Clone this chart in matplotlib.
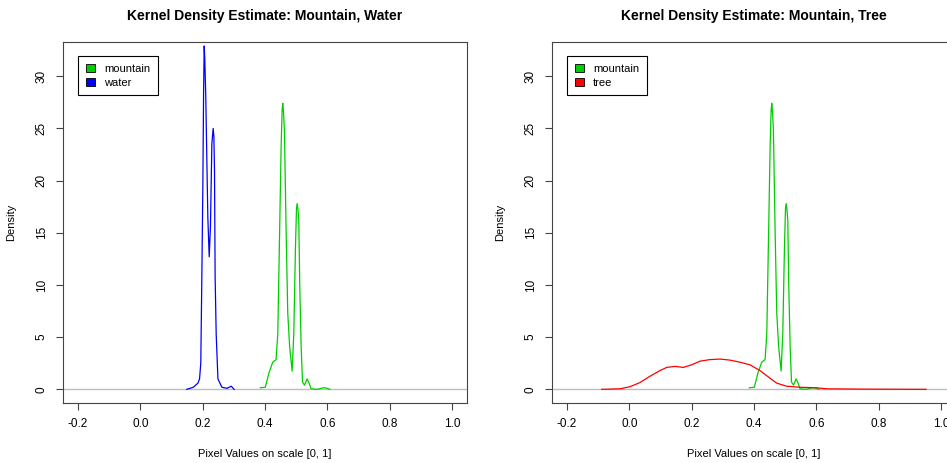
import numpy as np
import matplotlib
matplotlib.use('Agg')
import matplotlib.pyplot as plt
from matplotlib.patches import Patch

plt.rcParams['font.family'] = ['Liberation Sans', 'DejaVu Sans']

# density curves (x = pixel value, d = density)
water_x = [0.149, 0.170, 0.185, 0.190, 0.194, 0.197, 0.2005, 0.203, 0.205, 0.207, 0.210,
           0.2166, 0.221, 0.225, 0.2295, 0.2337, 0.236, 0.238, 0.240, 0.2434, 0.249,
           0.2617, 0.278, 0.2917, 0.301]
water_d = [0.0, 0.2, 0.6, 1.0, 2.5, 9.8, 19.1, 28.5, 32.9, 31.5, 28.0,
           16.5, 12.7, 15.6, 23.5, 25.0, 24.2, 21.0, 10.8, 5.3, 1.0,
           0.2, 0.1, 0.3, 0.0]

mountain_x = [0.385, 0.401, 0.412, 0.4247, 0.4355, 0.441, 0.446, 0.4517, 0.455, 0.457,
              0.4595, 0.4623, 0.4677, 0.473, 0.479, 0.487, 0.4923, 0.4977, 0.501, 0.503,
              0.5055, 0.5084, 0.5116, 0.516, 0.5203, 0.5268, 0.535, 0.542, 0.548, 0.568,
              0.587, 0.5975, 0.608]
mountain_d = [0.15, 0.2, 1.5, 2.6, 2.85, 5.3, 13.6, 23.2, 26.8, 27.4,
              26.5, 24.8, 15.2, 7.3, 4.1, 1.75, 5.3, 13.6, 17.3, 17.8,
              17.3, 16.2, 9.8, 4.1, 0.7, 0.4, 1.0, 0.55, 0.05, 0.0,
              0.15, 0.12, 0.0]

tree_x = [-0.0885, -0.030, 0.002, 0.034, 0.066, 0.0985, 0.120, 0.1466, 0.173, 0.200,
          0.227, 0.2586, 0.291, 0.323, 0.355, 0.387, 0.419, 0.4456, 0.4725, 0.5045,
          0.5476, 0.601, 0.633, 0.75, 0.85, 0.952]
tree_d = [0.0, 0.05, 0.25, 0.65, 1.25, 1.8, 2.1, 2.2, 2.1, 2.35,
          2.7, 2.85, 2.9, 2.8, 2.6, 2.35, 1.8, 1.2, 0.6, 0.3,
          0.2, 0.15, 0.05, 0.02, 0.01, 0.0]

titles = ['Kernel Density Estimate: Mountain, Water',
          'Kernel Density Estimate: Mountain, Tree']
x_ticks = [-0.2, 0.0, 0.2, 0.4, 0.6, 0.8, 1.0]
y_ticks = [0, 5, 10, 15, 20, 25, 30]

green = '#00CD00'
W, H = 947, 463
fig = plt.figure(figsize=(W / 100, H / 100), dpi=100)

panels = [
    (63, titles[0], [(mountain_x, mountain_d, green, 'mountain'),
                     (water_x, water_d, 'blue', 'water')]),
    (552, titles[1], [(mountain_x, mountain_d, green, 'mountain'),
                      (tree_x, tree_d, 'red', 'tree')]),
]

ax_w, top, bottom = 404, 42, 402.7
for left, title, series in panels:
    ax = fig.add_axes([left / W, (H - bottom) / H, ax_w / W, (bottom - top) / H])
    ax.axhline(0, color='#BEBEBE', lw=1.0, zorder=1)
    for xs, ds, col, lab in series:
        ax.plot(xs, ds, color=col, lw=0.9, zorder=2)
    ax.set_xlim(-0.248, 1.048)
    ax.set_ylim(-1.28, 33.28)
    ax.set_xticks(x_ticks)
    ax.set_xticklabels(['%.1f' % v for v in x_ticks])
    ax.set_yticks(y_ticks)
    ax.tick_params(labelsize=8.5, length=5, width=0.8, color='#444444', pad=6)
    plt.setp(ax.get_yticklabels(), rotation=90, va='center')
    for s in ax.spines.values():
        s.set_color('#444444')
        s.set_linewidth(0.8)
    ax.set_title(title, fontsize=10, fontweight='bold', pad=16)
    ax.set_xlabel('Pixel Values on scale [0, 1]', fontsize=8, labelpad=14)
    ax.set_ylabel('Density', fontsize=8, labelpad=14)
    handles = [Patch(facecolor=c, edgecolor='black', lw=0.6, label=l) for _, _, c, l in series]
    leg = ax.legend(handles=handles, loc='upper left', fontsize=8,
                    bbox_to_anchor=(15 / ax_w, 1 - 14 / (bottom - top)),
                    borderaxespad=0, fancybox=False, framealpha=1,
                    edgecolor='black', handlelength=0.85, handleheight=0.75,
                    handletextpad=0.8, labelspacing=0.35, borderpad=0.7)
    leg.get_frame().set_linewidth(0.8)

fig.savefig('out.png', dpi=100)
